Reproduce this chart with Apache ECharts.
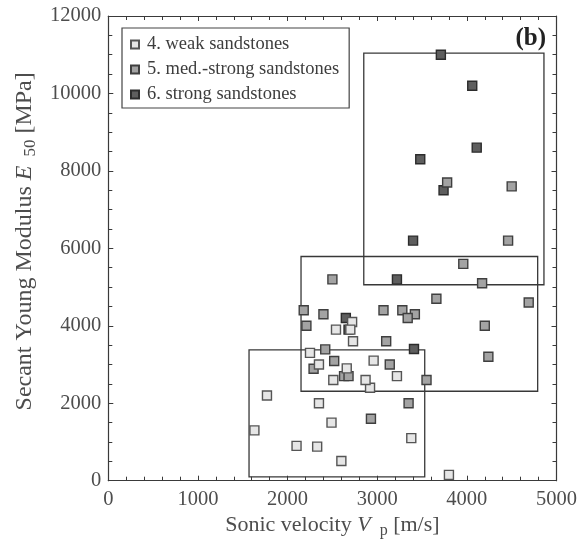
<!DOCTYPE html>
<html>
<head>
<meta charset="utf-8">
<script src="https://cdn.jsdelivr.net/npm/echarts@6/dist/echarts.min.js"></script>
<style>
  html, body { margin: 0; padding: 0; background: #ffffff; }
  #chart { width: 588px; height: 547px; }
</style>
</head>
<body>
<div id="chart"></div>
<script>
// Sonic velocity Vp [m/s] vs secant Young modulus E50 [MPa], grouped by sandstone class
const seriesNames = ['4. weak sandstones', '5. med.-strong sandstones', '6. strong sandstones'];

const weakVp = [1630, 1770, 2100, 2330, 2350, 2490, 2600, 3380, 3800, 2920, 2870, 3220, 2510, 2660, 2350, 2960, 2250, 2730, 2540, 2720, 2700];
const weakE  = [1300, 2200,  900,  880, 2000, 1500,  510, 1100,  150, 2400, 2600, 2700, 2600, 2900, 3000, 3100, 3300, 3600, 3900, 4100, 3900];

const medVp = [2290, 2520, 3140, 2420, 3100, 3550, 2930, 3350, 2630, 2680, 3960, 2500, 4170, 3660, 4690, 2180, 2400, 3070, 3280, 3420, 3340, 2210, 4200, 4240, 3780, 4500, 4460];
const medE  = [2890, 3090, 3000, 3390, 3600, 2600, 1600, 2000, 2700, 2700, 5600, 5200, 5100, 4700, 4600, 4400, 4300, 4400, 4400, 4300, 4200, 4000, 4000, 3200, 7700, 7600, 6200];

const strongVp = [3710, 4060, 4110, 3480, 3740, 3400, 3220, 2650, 2680, 3410];
const strongE  = [11000, 10200, 8600, 8300, 7500, 6200, 5200, 4200, 3900, 3400];

// Range boxes per class: [VpMin, VpMax, EMin, EMax]
const weakRange   = [1570, 3530, 100, 3380];
const medRange    = [2150, 4790, 2310, 5790];
const strongRange = [2850, 4860, 5060, 11040];

// Axis tick values
const xTicks = { min: 0, max: 5000, step: 1000, minorSplit: 5 };
const yTicks = { min: 0, max: 12000, step: 2000, minorSplit: 4 };

const FONT = '"Liberation Serif", "Times New Roman", serif';
const TEXT = '#4d4d4d';
const AXIS = '#3a3a3a';

function pairs(xs, ys) {
  return xs.map((x, i) => [x, ys[i]]);
}
function boxArea(r) {
  return [[{ coord: [r[0], r[2]] }, { coord: [r[1], r[3]] }]];
}

function axisBase(t) {
  return {
    type: 'value',
    min: t.min,
    max: t.max,
    interval: t.step,
    axisLine: { show: true, onZero: false, lineStyle: { color: AXIS, width: 1.2 } },
    axisTick: { show: true, inside: true, length: 5, lineStyle: { color: AXIS, width: 1 } },
    minorTick: { show: true, splitNumber: t.minorSplit, length: 4, lineStyle: { color: AXIS, width: 1 } },
    splitLine: { show: false },
    minorSplitLine: { show: false }
  };
}

const labelStyle = { fontFamily: FONT, fontSize: 20.5, color: TEXT, formatter: (v) => String(v) };

function nameRich(size) {
  return {
    t: { fontFamily: FONT, fontSize: size, color: TEXT },
    i: { fontFamily: FONT, fontSize: size, color: TEXT, fontStyle: 'italic' },
    s: { fontFamily: FONT, fontSize: Math.round(size * 0.72), color: TEXT, padding: [Math.round(size * 0.45), 0, 0, 9] }
  };
}

const markerStyles = [
  { color: '#e6e6e6', borderColor: '#555555' },
  { color: '#a3a3a3', borderColor: '#3f3f3f' },
  { color: '#5e5e5e', borderColor: '#2c2c2c' }
];

function scatter(idx, xs, ys, range, z) {
  return {
    name: seriesNames[idx],
    type: 'scatter',
    xAxisIndex: 0,
    yAxisIndex: 0,
    symbol: 'rect',
    symbolSize: 9,
    z: z,
    data: pairs(xs, ys),
    itemStyle: { color: markerStyles[idx].color, borderColor: markerStyles[idx].borderColor, borderWidth: 1.4, opacity: 1 },
    emphasis: { disabled: true },
    markArea: {
      silent: true,
      z: 1,
      itemStyle: { color: 'rgba(0,0,0,0)', borderColor: '#383838', borderWidth: 1.3 },
      label: { show: false },
      data: boxArea(range)
    }
  };
}

const chart = echarts.init(document.getElementById('chart'), null, { renderer: 'canvas' });

chart.setOption({
  animation: false,
  backgroundColor: '#ffffff',
  grid: { left: 108.3, right: 31.5, top: 16, bottom: 66.3, containLabel: false },
  xAxis: [
    Object.assign(axisBase(xTicks), {
      position: 'bottom',
      axisLabel: Object.assign({ margin: 8 }, labelStyle),
      name: '{t|Sonic velocity }{i|V}{s|p}{t| [m/s]}',
      nameLocation: 'middle',
      nameGap: 28,
      nameTextStyle: { rich: nameRich(22) }
    }),
    Object.assign(axisBase(xTicks), { position: 'top', axisLabel: { show: false } })
  ],
  yAxis: [
    Object.assign(axisBase(yTicks), {
      position: 'left',
      axisLabel: Object.assign({ margin: 7 }, labelStyle),
      name: '{t|Secant Young Modulus }{i|E}{s|50}{t| [MPa]}',
      nameLocation: 'middle',
      nameGap: 64,
      nameTextStyle: { rich: nameRich(24), padding: [0, 0, 0, 14] }
    }),
    Object.assign(axisBase(yTicks), { position: 'right', axisLabel: { show: false } })
  ],
  legend: {
    left: 122,
    top: 28,
    orient: 'vertical',
    icon: 'rect',
    itemWidth: 8,
    itemHeight: 8,
    itemGap: 6,
    padding: [7, 10, 4, 8],
    borderColor: '#444444',
    borderWidth: 1.2,
    backgroundColor: '#ffffff',
    selectedMode: false,
    textStyle: { fontFamily: FONT, fontSize: 18.5, color: '#3d3d3d', lineHeight: 17, padding: [0, 0, 0, 3] },
    data: seriesNames
  },
  graphic: [{
    type: 'text',
    right: 42,
    top: 26,
    style: { text: '(b)', font: 'bold 25px "Liberation Serif", serif', fill: '#222222' }
  }],
  series: [
    scatter(0, weakVp, weakE, weakRange, 5),
    scatter(1, medVp, medE, medRange, 4),
    scatter(2, strongVp, strongE, strongRange, 3)
  ]
});
</script>
</body>
</html>
